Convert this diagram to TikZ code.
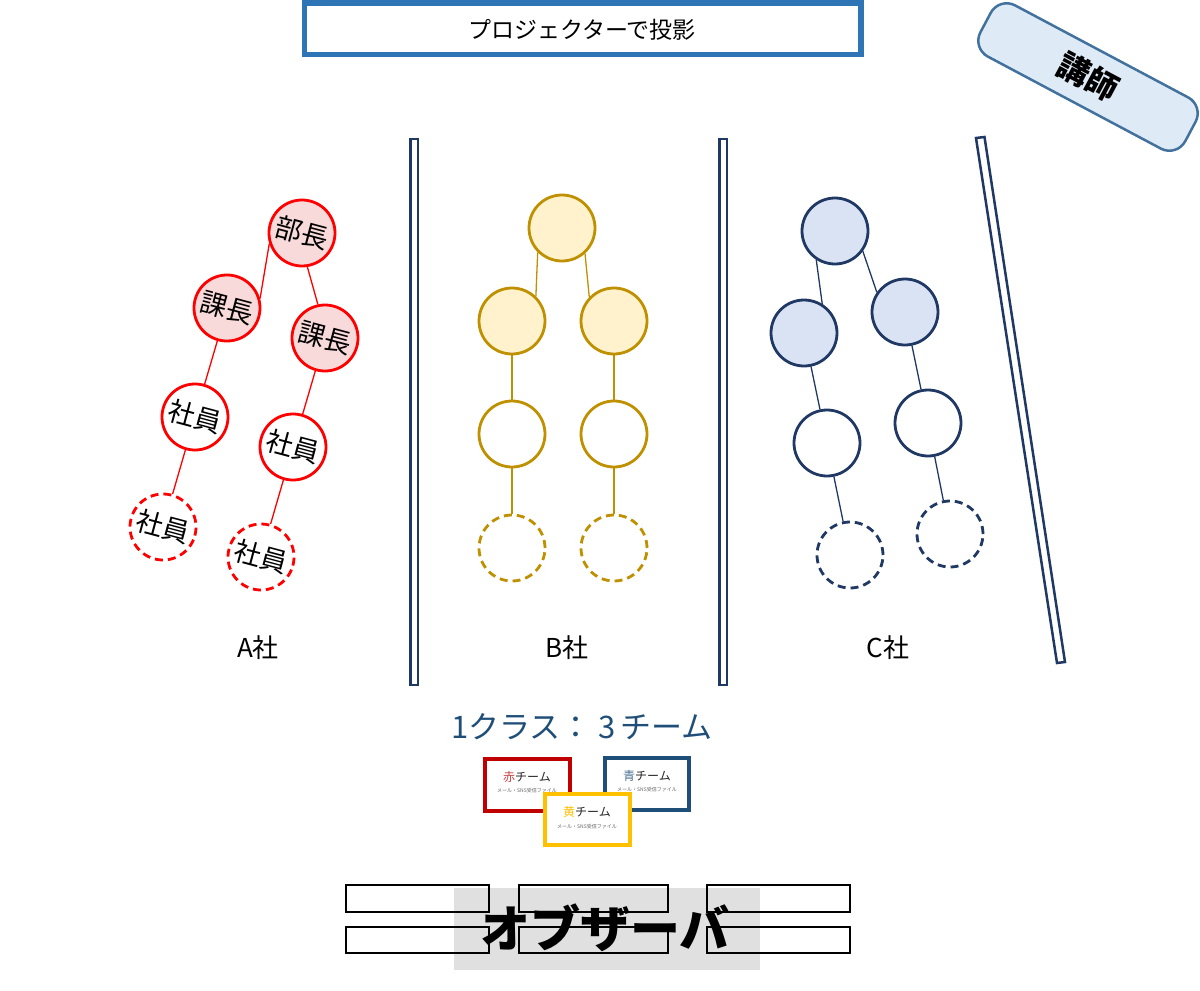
\documentclass[tikz,border=0pt]{standalone}
\usepackage{fontspec}
\setmainfont{Noto Sans CJK JP}
\newfontfamily\jp{Noto Sans CJK JP}
\definecolor{projblue}{HTML}{2E75B6}
\definecolor{navy}{HTML}{203864}
\definecolor{aRed}{HTML}{FF0000}
\definecolor{aFill}{HTML}{F9DADA}
\definecolor{bGold}{HTML}{BF9000}
\definecolor{bFill}{HTML}{FFF2CC}
\definecolor{cFill}{HTML}{DAE3F3}
\definecolor{tBlue}{HTML}{1F4E79}
\definecolor{tRed}{HTML}{C00000}
\definecolor{tYel}{HTML}{FFC000}
\definecolor{lecFill}{HTML}{DEEBF7}
\definecolor{lecLine}{HTML}{41719C}
\definecolor{obsGrey}{HTML}{E0E0E0}
\tikzset{
  x=1pt,y=-1pt,
  member/.style={circle,minimum size=66pt,inner sep=0pt,line width=2.8pt,font=\fontsize{27}{27}\selectfont},
  amem/.style={member,draw=aRed,fill=white,text=black,rotate=-15},
  atop/.style={amem,fill=aFill},
  bmem/.style={member,draw=bGold,fill=white},
  btop/.style={bmem,fill=bFill},
  cmem/.style={member,draw=navy,fill=white},
  ctop/.style={cmem,fill=cFill},
  future/.style={dash pattern=on 8pt off 5pt},
  alink/.style={draw=aRed,line width=1.3pt},
  blink/.style={draw=bGold,line width=1.3pt},
  clink/.style={draw=navy,line width=1.3pt},
  wall/.style={draw=navy,line width=2.5pt,fill=white},
  card/.style={line width=4pt,fill=white},
  cardtitle/.style={font=\fontsize{12}{12}\selectfont,text=black!85},
  cardsub/.style={font=\fontsize{5}{5}\selectfont,text=black!60},
  bench/.style={draw=black,line width=2pt},
  company/.style={font=\fontsize{26}{26}\selectfont}
}
\begin{document}
\begin{tikzpicture}
\useasboundingbox (0,0) rectangle (1200,991);
% projector
\draw[projblue,line width=5.5pt] (304.5,2.75) rectangle (861,54.5);
\node[font=\fontsize{23}{23}\selectfont] (proj) at (582,30) {プロジェクターで投影};
% lecturer
\node[rotate=-28,rectangle,rounded corners=18pt,minimum width=232pt,minimum height=58pt,
  fill=lecFill,draw=lecLine,line width=2.5pt,font=\fontsize{32}{32}\selectfont\bfseries] (lec) at (1088,77) {講師};
% walls
\draw[wall] (410.25,139) rectangle (417.75,685);
\draw[wall] (719.25,139) rectangle (726.75,685);
\draw[wall] (976,138) -- (984.5,137) -- (1065,662) -- (1057,663) -- cycle;
% company A
\node[atop] (abu) at (302,233) {部長};
\node[atop] (akl) at (227,308) {課長};
\node[atop] (akr) at (325,338) {課長};
\node[amem] (asl) at (195,417) {社員};
\node[amem] (asr) at (293,447) {社員};
\node[amem,future] (afl) at (163,527) {社員};
\node[amem,future] (afr) at (261,557) {社員};
\draw[alink] (abu.213) -- (akl.31);
\draw[alink] (abu.-66) -- (akr.117);
\draw[alink] (akl) -- (asl);
\draw[alink] (akr) -- (asr);
\draw[alink] (asl) -- (afl);
\draw[alink] (asr) -- (afr);
% company B
\node[btop] (bt) at (562,228) {};
\node[btop] (bl) at (512,321) {};
\node[btop] (br) at (614,321) {};
\node[bmem] (bsl) at (512,434) {};
\node[bmem] (bsr) at (614,434) {};
\node[bmem,future] (bfl) at (512,548) {};
\node[bmem,future] (bfr) at (614,548) {};
\draw[blink] (bt.225) -- (bl.46);
\draw[blink] (bt.-48) -- (br.136);
\draw[blink] (bl) -- (bsl);
\draw[blink] (br) -- (bsr);
\draw[blink] (bsl) -- (bfl);
\draw[blink] (bsr) -- (bfr);
% company C
\node[ctop] (ct) at (835,231) {};
\node[ctop] (cl) at (804,333) {};
\node[ctop] (cr) at (905,312) {};
\node[cmem] (csl) at (827,443) {};
\node[cmem] (csr) at (928,423) {};
\node[cmem,future] (cfl) at (850,555) {};
\node[cmem,future] (cfr) at (950,534) {};
\draw[clink] (ct.-123) -- (cl.58);
\draw[clink] (ct.-36) -- (cr.145);
\draw[clink] (cl) -- (csl);
\draw[clink] (cr) -- (csr);
\draw[clink] (csl) -- (cfl);
\draw[clink] (csr) -- (cfr);
% company labels
\node[company] (la) at (258,648) {A社};
\node[company] (lb) at (567,648) {B社};
\node[company] (lc) at (888,648) {C社};
% class label
\node[font=\fontsize{31}{31}\selectfont,text=tBlue] (cls) at (582,727) {1クラス： 3\,チーム};
% team cards
\draw[card,draw=tRed] (485,759) rectangle (570,811);
\node[cardtitle] (rt) at (527,777) {\textcolor{tRed!75}{赤}チーム};
\node[cardsub] (rs) at (527,791) {メール・SNS受信ファイル};
\draw[card,draw=tBlue] (605,758) rectangle (689,810);
\node[cardtitle] (bt2) at (647,776) {\textcolor{tBlue!80}{青}チーム};
\node[cardsub] (bs2) at (647,790) {メール・SNS受信ファイル};
\draw[card,draw=tYel] (545,794) rectangle (630,845);
\node[cardtitle] (yt) at (587,812) {\textcolor{tYel}{黄}チーム};
\node[cardsub] (ys) at (587,827) {メール・SNS受信ファイル};
% observers
\fill[obsGrey] (454,888) rectangle (760,970);
\draw[bench] (346,885) rectangle (489,912);
\draw[bench] (346,927) rectangle (489,953);
\draw[bench] (519,885) rectangle (668,912);
\draw[bench] (519,927) rectangle (668,953);
\draw[bench] (707,885) rectangle (850,912);
\draw[bench] (707,927) rectangle (850,953);
\node[font=\fontsize{50}{50}\selectfont\bfseries] (obs) at (605,928) {オブザーバ};
\end{tikzpicture}
\end{document}
